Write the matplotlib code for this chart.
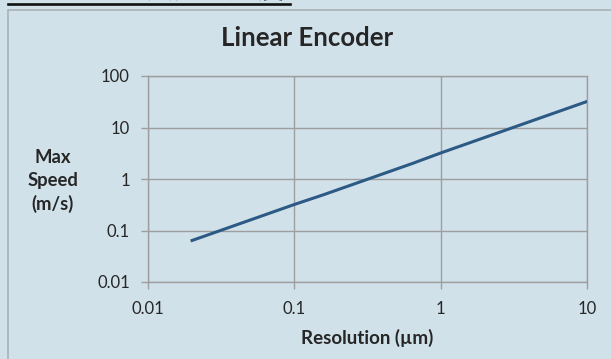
import matplotlib

matplotlib.use("Agg")
import matplotlib.pyplot as plt
from matplotlib.lines import Line2D
from matplotlib.patches import Rectangle
from matplotlib.ticker import FixedLocator, FixedFormatter, NullLocator

# data
resolution_um = [0.02, 0.05, 0.1, 0.16, 0.32, 0.64, 1, 2.5, 5, 10]
max_speed = [0.064, 0.16, 0.32, 0.5, 1.0, 2.0, 3.2, 8, 16, 32]
x_ticks = [0.01, 0.1, 1, 10]
x_labels = ["0.01", "0.1", "1", "10"]
y_ticks = [0.01, 0.1, 1, 10, 100]
y_labels = ["0.01", "0.1", "1", "10", "100"]

BG = "#d1e1ea"
LINE = "#2c5a85"
GRID = "#9e9e9e"
INK = "#262626"

plt.rcParams["font.family"] = ["Lato", "Noto Sans CJK JP", "DejaVu Sans"]

W, H = 611, 359
fig = plt.figure(figsize=(W / 100, H / 100), dpi=100)
fig.patch.set_facecolor(BG)

# heading mostly cut off by the top edge, only glyph bottoms show
fig.text(8 / W, 1 - 4.7 / H, "分解能と最大応答速度", fontsize=20, fontweight="bold",
         family=["Noto Sans CJK JP", "DejaVu Sans"], color="#111111",
         ha="left", va="bottom")
fig.add_artist(Line2D([8 / W, 290 / W], [1 - 4.2 / H, 1 - 4.2 / H],
                      transform=fig.transFigure, color="#111111", linewidth=1.9))

# chart frame
fig.add_artist(Rectangle((8 / W, -0.05), 1.0, 1 - 10 / H + 0.05,
                         transform=fig.transFigure, facecolor="none",
                         edgecolor="#a8b0b5", linewidth=1.2))

ax = fig.add_axes([148 / W, 1 - 282 / H, 439 / W, 206 / H])
ax.set_facecolor(BG)
ax.plot(resolution_um, max_speed, color=LINE, linewidth=2.2, zorder=3)

ax.set_xscale("log")
ax.set_yscale("log")
ax.set_xlim(0.01, 10)
ax.set_ylim(0.01, 100)
ax.xaxis.set_major_locator(FixedLocator(x_ticks))
ax.xaxis.set_major_formatter(FixedFormatter(x_labels))
ax.yaxis.set_major_locator(FixedLocator(y_ticks))
ax.yaxis.set_major_formatter(FixedFormatter(y_labels))
ax.xaxis.set_minor_locator(NullLocator())
ax.yaxis.set_minor_locator(NullLocator())

ax.grid(True, color=GRID, linewidth=1.0)
ax.set_axisbelow(True)
for s in ax.spines.values():
    s.set_color(GRID)
    s.set_linewidth(1.0)
ax.tick_params(axis="both", length=5, width=1.0, color=GRID,
               labelsize=12, labelcolor=INK)
ax.tick_params(axis="y", pad=8)
ax.tick_params(axis="x", pad=9)

fig.text(307 / W, 1 - 38 / H, "Linear Encoder", fontsize=18.5,
         fontweight="bold", color=INK, ha="center", va="center")
fig.text(367 / W, 1 - 338 / H, "Resolution (µm)", fontsize=13.5,
         fontweight="bold", color=INK, ha="center", va="center")
fig.text(53 / W, 1 - 181 / H, "Max\nSpeed\n(m/s)", fontsize=13.3,
         fontweight="bold", color=INK, ha="center", va="center",
         linespacing=1.4)

fig.savefig("out.png", dpi=100, facecolor=BG)
